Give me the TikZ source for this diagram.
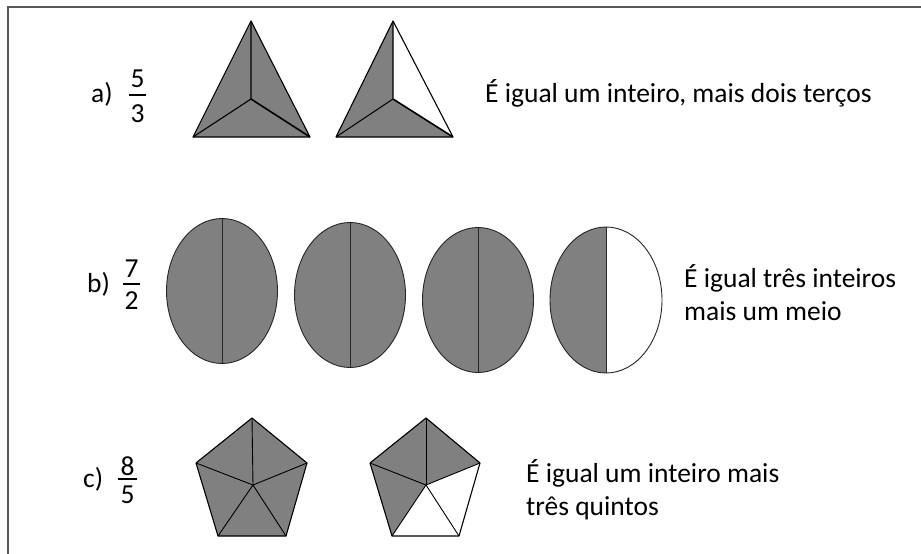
\documentclass[tikz,border=0pt]{standalone}
\usepackage{fontspec}
\setmainfont{Carlito}
\definecolor{cinza}{RGB}{128,128,128}
\begin{document}
\begin{tikzpicture}[x=1pt, y=-1pt, every node/.style={inner sep=0pt, font=\fontsize{27.5}{33}\selectfont},
		parte/.style={line width=1.1pt, line join=round},
		oval/.style={draw=black!85, line width=0.9pt},
		barra/.style={line width=1.2pt}]
	\useasboundingbox (0,0) rectangle (921,554);
	\draw[black!65, line width=2pt] (8,554) -- (8,7) -- (921,7);
	
	% a) 5/3
	\node[anchor=base west] (la) at (91,102) {a)};
	\node[anchor=base] (na) at (137.5,87.5) {5};
	\node[anchor=base] (da) at (137.5,122) {3};
	\draw[barra] (129,95) -- (146,95);
	\node[anchor=base west] (ta) at (485,102) {É igual um inteiro, mais dois terços};
	
	\coordinate (t1a) at (251,21);
	\coordinate (t1l) at (193,137);
	\coordinate (t1r) at (310,137);
	\coordinate (t1c) at (251,99);
	\fill[cinza] (t1a) -- (t1l) -- (t1r) -- cycle;
	\draw[parte] (t1a) -- (t1l) -- (t1r) -- cycle;
	\draw[parte] (t1c) -- (t1a) (t1c) -- (t1l);
	\draw[line width=1.6pt] (t1c) -- (t1r);
	
	\coordinate (t2a) at (393,21);
	\coordinate (t2l) at (336,137);
	\coordinate (t2r) at (453,137);
	\coordinate (t2c) at (393,99);
	\fill[cinza] (t2a) -- (t2l) -- (t2r) -- (t2c) -- cycle;
	\draw[parte] (t2a) -- (t2l) -- (t2r) -- cycle;
	\draw[parte] (t2c) -- (t2a) (t2c) -- (t2l);
	\draw[line width=1.6pt] (t2c) -- (t2r);
	
	% b) 7/2
	\node[anchor=base west] (lb) at (87,292) {b)};
	\node[anchor=base] (nb) at (131.5,277.5) {7};
	\node[anchor=base] (db) at (131.5,309) {2};
	\draw[barra] (123,284) -- (140,284);
	\node[anchor=base west, align=left] (tb) at (684,320) {É igual três inteiros\\mais um meio};
	
	\foreach \x/\y in {222/291, 350/295, 478/300} {
		\draw[oval, fill=cinza] (\x,\y) ellipse [x radius=55.5, y radius=72.5];
		\draw[oval] (\x,\y-72.5) -- (\x,\y+72.5);
	}
	\begin{scope}
		\clip (540,220) rectangle (606,380);
		\fill[cinza] (606,300) ellipse [x radius=56, y radius=73];
	\end{scope}
	\draw[oval] (606,300) ellipse [x radius=56, y radius=73];
	\draw[oval] (606,227) -- (606,373);
	
	% c) 8/5
	\node[anchor=base west] (lc) at (83,487) {c)};
	\node[anchor=base] (nc) at (127.5,475.5) {8};
	\node[anchor=base] (dc) at (127.5,503) {5};
	\draw[barra] (118,479) -- (137,479);
	\node[anchor=base west, align=left] (tc) at (526,515) {É igual um inteiro mais\\três quintos};
	
	\coordinate (p1t) at (252,418);
	\coordinate (p1ul) at (196,463);
	\coordinate (p1ur) at (307,463);
	\coordinate (p1ll) at (218,536);
	\coordinate (p1lr) at (286,536);
	\coordinate (p1c) at (253,485);
	\draw[parte, fill=cinza] (p1t) -- (p1ur) -- (p1lr) -- (p1ll) -- (p1ul) -- cycle;
	\foreach \v in {p1t, p1ur, p1lr, p1ll, p1ul}
		\draw[line width=0.9pt] (p1c) -- (\v);
	
	\coordinate (p2t) at (426,418);
	\coordinate (p2ul) at (370,463);
	\coordinate (p2ur) at (480,463);
	\coordinate (p2ll) at (392,536);
	\coordinate (p2lr) at (459,536);
	\coordinate (p2c) at (426,485);
	\fill[cinza] (p2ll) -- (p2ul) -- (p2t) -- (p2ur) -- (p2c) -- cycle;
	\draw[parte] (p2t) -- (p2ur) -- (p2lr) -- (p2ll) -- (p2ul) -- cycle;
	\foreach \v in {p2t, p2ur, p2lr, p2ll, p2ul}
		\draw[line width=0.9pt] (p2c) -- (\v);
\end{tikzpicture}
\end{document}
